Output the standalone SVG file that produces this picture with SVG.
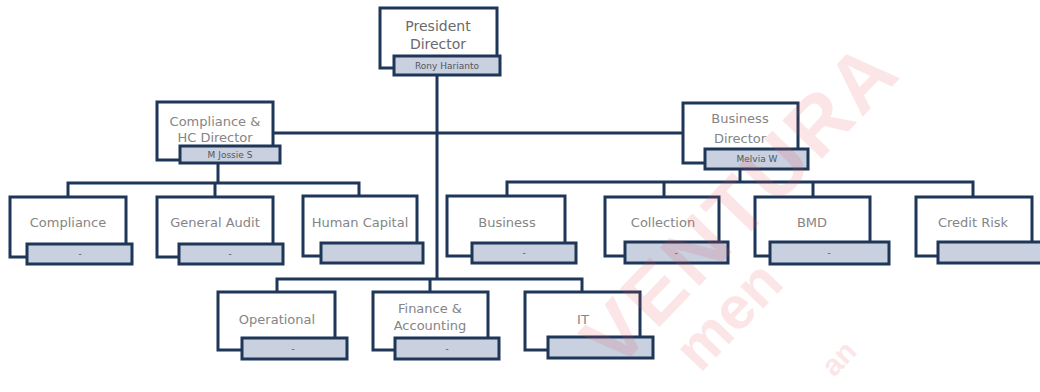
<svg xmlns="http://www.w3.org/2000/svg" width="1040" height="392" viewBox="0 0 1040 392">
<style>
.box{fill:#ffffff;stroke:#1e3658;stroke-width:3}
.bar{fill:#c9d0e0;stroke:#1e3658;stroke-width:3}
.ln{fill:none;stroke:#1e3658;stroke-width:3}
.t{font-family:"DejaVu Sans",sans-serif;font-size:13px;fill:#858585;text-anchor:middle}
.tb{font-family:"DejaVu Sans",sans-serif;font-size:14px;fill:#6a6a6a;text-anchor:middle}
.n{font-family:"DejaVu Sans",sans-serif;font-size:9px;fill:#555555;text-anchor:middle}
.wm{font-family:"Liberation Sans",Arial,sans-serif;font-weight:bold;fill:#e8505a;opacity:0.14}
</style>
<rect width="1040" height="392" fill="#ffffff"/>
<g id="connectors">
<polyline class="ln" points="437,75 437,279"/>
<polyline class="ln" points="273,133 683,133"/>
<polyline class="ln" points="218,163 218,183"/>
<polyline class="ln" points="68,197 68,183 359,183 359,196"/>
<polyline class="ln" points="215,183 215,197"/>
<polyline class="ln" points="740,170 740,182"/>
<polyline class="ln" points="507,196 507,182 973,182 973,197"/>
<polyline class="ln" points="664,182 664,197"/>
<polyline class="ln" points="813,182 813,197"/>
<polyline class="ln" points="277,292 277,279 582,279 582,292"/>
<polyline class="ln" points="430,279 430,292"/>
</g>
<g id="president">
<rect class="box" x="380" y="8" width="117" height="60"/>
<text class="tb" x="438" y="31">President</text>
<text class="tb" x="438" y="49">Director</text>
<rect class="bar" x="394" y="56" width="106" height="19"/>
<text class="n" x="447" y="69">Rony Harianto</text>
</g>
<g id="compliance-director">
<rect class="box" x="157" y="102" width="116" height="58"/>
<text class="t" x="215" y="126">Compliance &amp;</text>
<text class="t" x="215" y="142">HC Director</text>
<rect class="bar" x="180" y="146" width="100" height="17"/>
<text class="n" x="230" y="158">M Jossie S</text>
</g>
<g id="business-director">
<rect class="box" x="683" y="103" width="115" height="60"/>
<text class="t" x="740" y="123">Business</text>
<text class="t" x="740" y="143">Director</text>
<rect class="bar" x="705" y="149" width="103" height="20"/>
<text class="n" x="757" y="162">Melvia W</text>
</g>
<g id="compliance">
<rect class="box" x="10" y="197" width="116" height="60"/>
<text class="t" x="68" y="227">Compliance</text>
<rect class="bar" x="27" y="244" width="105" height="20"/>
<text class="n" x="80" y="257">-</text>
</g>
<g id="general-audit">
<rect class="box" x="157" y="197" width="116" height="60"/>
<text class="t" x="215" y="227">General Audit</text>
<rect class="bar" x="179" y="244" width="104" height="20"/>
<text class="n" x="230" y="257">-</text>
</g>
<g id="human-capital">
<rect class="box" x="303" y="196" width="114" height="60"/>
<text class="t" x="360" y="227">Human Capital</text>
<rect class="bar" x="321" y="243" width="102" height="20"/>
</g>
<g id="business">
<rect class="box" x="447" y="196" width="118" height="60"/>
<text class="t" x="507" y="227">Business</text>
<rect class="bar" x="472" y="243" width="104" height="20"/>
<text class="n" x="524" y="256">-</text>
</g>
<g id="collection">
<rect class="box" x="605" y="197" width="114" height="59"/>
<text class="t" x="663" y="227">Collection</text>
<rect class="bar" x="625" y="242" width="103" height="21"/>
<text class="n" x="676" y="256">-</text>
</g>
<g id="bmd">
<rect class="box" x="755" y="197" width="115" height="59"/>
<text class="t" x="812" y="227">BMD</text>
<rect class="bar" x="770" y="242" width="119" height="22"/>
<text class="n" x="829" y="256">-</text>
</g>
<g id="credit-risk">
<rect class="box" x="916" y="197" width="116" height="59"/>
<text class="t" x="973" y="227">Credit Risk</text>
<rect class="bar" x="938" y="242" width="106" height="21"/>
</g>
<g id="operational">
<rect class="box" x="218" y="292" width="117" height="58"/>
<text class="t" x="277" y="324">Operational</text>
<rect class="bar" x="242" y="338" width="105" height="21"/>
<text class="n" x="293" y="352">-</text>
</g>
<g id="finance-accounting">
<rect class="box" x="373" y="292" width="115" height="58"/>
<text class="t" x="430" y="313">Finance &amp;</text>
<text class="t" x="430" y="330">Accounting</text>
<rect class="bar" x="395" y="338" width="104" height="21"/>
<text class="n" x="447" y="352">-</text>
</g>
<g id="it">
<rect class="box" x="525" y="292" width="115" height="58"/>
<text class="t" x="583" y="324">IT</text>
<rect class="bar" x="548" y="337" width="105" height="21"/>
</g>
<g id="watermark">
<text class="wm" font-size="80" letter-spacing="4" transform="translate(616,372) rotate(-46)">VENTURA</text>
<text class="wm" font-size="60" transform="translate(700,374) rotate(-46)">men</text>
<text class="wm" font-size="30" transform="translate(834,378) rotate(-46)">an</text>
</g>
</svg>
